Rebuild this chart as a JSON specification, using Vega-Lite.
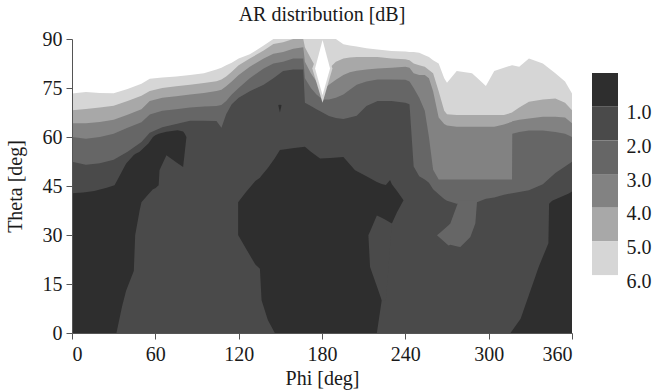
{
"$schema":"https://vega.github.io/schema/vega-lite/v6.json",
"padding":{"left":5,"top":5,"right":5,"bottom":5},
"background":"white",
"bounds":"flush",
"spacing":20,
"config":{"font":"Liberation Serif, Tinos, Times New Roman, Times, serif"},
"datasets":{
"base":[
{"p":0,"b2":52.4,"b3":60,"b4":64.2,"b5":68.2,"b6":73.3},
{"p":10,"b2":51.5,"b3":59.5,"b4":64.2,"b5":68.6,"b6":73.8},
{"p":20,"b2":52,"b3":60,"b4":64.6,"b5":69,"b6":73.5},
{"p":30,"b2":53,"b3":61,"b4":65.3,"b5":69.6,"b6":73.4},
{"p":40,"b2":55.5,"b3":62.8,"b4":66.8,"b5":71,"b6":74.7},
{"p":50,"b2":58.5,"b3":64.5,"b4":68.5,"b5":72.6,"b6":76.3},
{"p":56,"b2":61.3,"b3":66.9,"b4":71,"b5":74.1,"b6":77.8},
{"p":65,"b2":63,"b3":68,"b4":72,"b5":75,"b6":78.2},
{"p":75,"b2":64,"b3":68.5,"b4":72.5,"b5":75.5,"b6":78.5},
{"p":85,"b2":65,"b3":69,"b4":73,"b5":76,"b6":79},
{"p":95,"b2":65,"b3":69.3,"b4":73.5,"b5":76.5,"b6":79.5},
{"p":104,"b2":64.9,"b3":69.5,"b4":74.1,"b5":77.1,"b6":80.7},
{"p":107.6,"b2":62.8,"b3":69.8,"b4":74.5,"b5":77.6,"b6":81.2},
{"p":111,"b2":67,"b3":71,"b4":75.5,"b5":78.5,"b6":82},
{"p":115,"b2":70,"b3":73,"b4":77,"b5":80,"b6":82.7},
{"p":120,"b2":72,"b3":75,"b4":79,"b5":82,"b6":84},
{"p":128,"b2":74,"b3":78,"b4":81.5,"b5":84,"b6":85.3},
{"p":138,"b2":76,"b3":81,"b4":84,"b5":86.5,"b6":88},
{"p":145,"b2":78,"b3":82.5,"b4":85.5,"b5":88.5,"b6":90},
{"p":152,"b2":80.2,"b3":83,"b4":86,"b5":89,"b6":90},
{"p":159.3,"b2":80.7,"b3":84,"b4":87,"b5":90,"b6":90},
{"p":166.5,"b2":80.7,"b3":84,"b4":87.5,"b5":90,"b6":90},
{"p":167.7,"b2":70.5,"b3":78,"b4":83,"b5":87.5,"b6":90},
{"p":172,"b2":69.5,"b3":75,"b4":79.5,"b5":84,"b6":90},
{"p":176,"b2":68.5,"b3":73,"b4":77,"b5":81,"b6":90},
{"p":180.4,"b2":67.5,"b3":71.5,"b4":74.5,"b5":78,"b6":90},
{"p":185,"b2":66.4,"b3":71.5,"b4":76,"b5":81,"b6":90},
{"p":190,"b2":65.8,"b3":72,"b4":77.5,"b5":83,"b6":90},
{"p":195.4,"b2":65.5,"b3":73,"b4":79,"b5":84,"b6":88.4},
{"p":200,"b2":66,"b3":74.5,"b4":79.8,"b5":84.3,"b6":88},
{"p":205,"b2":66.5,"b3":76,"b4":80.3,"b5":84.5,"b6":87.7},
{"p":212,"b2":69.5,"b3":77,"b4":80.7,"b5":84.5,"b6":87.2},
{"p":220,"b2":71,"b3":77.6,"b4":81,"b5":84.5,"b6":86.8},
{"p":230,"b2":71,"b3":77.6,"b4":81.2,"b5":84,"b6":86.3},
{"p":240,"b2":70.5,"b3":77.5,"b4":81.5,"b5":83.8,"b6":86.2},
{"p":243,"b2":70,"b3":77,"b4":81.2,"b5":83.5,"b6":86},
{"p":246,"b2":51,"b3":75,"b4":79.5,"b5":82.5,"b6":86},
{"p":250,"b2":48,"b3":72,"b4":79,"b5":82,"b6":85.8},
{"p":254,"b2":47,"b3":68,"b4":79,"b5":81.5,"b6":85},
{"p":257,"b2":46,"b3":60,"b4":78,"b5":80.5,"b6":84.5},
{"p":260,"b2":44,"b3":50,"b4":74,"b5":79.5,"b6":83.5},
{"p":264,"b2":42.5,"b3":47,"b4":66,"b5":74,"b6":82.5},
{"p":268,"b2":41,"b3":47,"b4":64,"b5":68,"b6":78},
{"p":270,"b2":40.5,"b3":47,"b4":63.5,"b5":67,"b6":76.6},
{"p":277,"b2":39.6,"b3":47,"b4":63.1,"b5":66.7,"b6":80.2},
{"p":288,"b2":39.8,"b3":47,"b4":63.1,"b5":66.7,"b6":79.5},
{"p":292,"b2":40.1,"b3":47,"b4":63.1,"b5":66.7,"b6":78},
{"p":298,"b2":41.1,"b3":47,"b4":63.1,"b5":66.7,"b6":75.6},
{"p":304,"b2":41.5,"b3":47,"b4":63.1,"b5":66.7,"b6":80.2},
{"p":311,"b2":42.3,"b3":47,"b4":63.8,"b5":66.7,"b6":81.2},
{"p":316.8,"b2":42.8,"b3":47,"b4":64.7,"b5":67.5,"b6":82},
{"p":317,"b2":42.8,"b3":61,"b4":64.8,"b5":67.6,"b6":82},
{"p":322,"b2":43.2,"b3":61.5,"b4":65.3,"b5":69,"b6":81.5},
{"p":329,"b2":43.7,"b3":62,"b4":65.7,"b5":70.8,"b6":84},
{"p":339,"b2":45.5,"b3":62,"b4":66.2,"b5":71.5,"b6":82.5},
{"p":348,"b2":49,"b3":61.5,"b4":66.2,"b5":71.8,"b6":79.5},
{"p":355,"b2":51,"b3":61,"b4":66,"b5":70.5,"b6":77},
{"p":360,"b2":52.4,"b3":60,"b4":64.2,"b5":68.2,"b6":73.3}
],
"isl1":[
{"id":"D1","v":0.5,"p":0,"lo":0,"hi":42.8},
{"id":"D1","v":0.5,"p":8,"lo":0,"hi":43},
{"id":"D1","v":0.5,"p":16,"lo":0,"hi":43.5},
{"id":"D1","v":0.5,"p":25,"lo":0,"hi":44.5},
{"id":"D1","v":0.5,"p":30.6,"lo":0,"hi":45.2},
{"id":"D1","v":0.5,"p":32,"lo":0,"hi":46.3},
{"id":"D1","v":0.5,"p":36,"lo":8,"hi":49.5},
{"id":"D1","v":0.5,"p":39,"lo":13,"hi":51.9},
{"id":"D1","v":0.5,"p":44.5,"lo":19,"hi":54.5},
{"id":"D1","v":0.5,"p":45.5,"lo":30,"hi":54.8},
{"id":"D1","v":0.5,"p":48.7,"lo":37.5,"hi":55.5},
{"id":"D1","v":0.5,"p":50,"lo":40,"hi":56},
{"id":"D1","v":0.5,"p":55,"lo":42.5,"hi":58},
{"id":"D1","v":0.5,"p":58.3,"lo":44,"hi":60},
{"id":"D1","v":0.5,"p":60,"lo":44.3,"hi":60.5},
{"id":"D1","v":0.5,"p":62.4,"lo":45.2,"hi":61},
{"id":"D1","v":0.5,"p":63,"lo":49.8,"hi":61.1},
{"id":"D1","v":0.5,"p":68,"lo":54.4,"hi":61.6},
{"id":"D1","v":0.5,"p":76,"lo":52,"hi":62.1},
{"id":"D1","v":0.5,"p":80,"lo":50.8,"hi":61.7},
{"id":"D1","v":0.5,"p":81.2,"lo":55.4,"hi":61},
{"id":"D1","v":0.5,"p":82.4,"lo":60,"hi":60},
{"id":"D2","v":0.5,"p":119.6,"lo":30,"hi":40},
{"id":"D2","v":0.5,"p":125,"lo":26,"hi":43},
{"id":"D2","v":0.5,"p":132,"lo":21,"hi":46.5},
{"id":"D2","v":0.5,"p":135.3,"lo":19.7,"hi":47.5},
{"id":"D2","v":0.5,"p":136.5,"lo":10,"hi":48.2},
{"id":"D2","v":0.5,"p":141,"lo":4,"hi":50.5},
{"id":"D2","v":0.5,"p":146,"lo":0,"hi":53.5},
{"id":"D2","v":0.5,"p":149.7,"lo":0,"hi":56},
{"id":"D2","v":0.5,"p":160,"lo":0,"hi":56.6},
{"id":"D2","v":0.5,"p":167.7,"lo":0,"hi":57},
{"id":"D2","v":0.5,"p":172,"lo":0,"hi":55.5},
{"id":"D2","v":0.5,"p":178.6,"lo":0,"hi":53.4},
{"id":"D2","v":0.5,"p":186,"lo":0,"hi":53.6},
{"id":"D2","v":0.5,"p":195.4,"lo":0,"hi":53.9},
{"id":"D2","v":0.5,"p":203.8,"lo":0,"hi":49.8},
{"id":"D2","v":0.5,"p":212,"lo":0,"hi":48},
{"id":"D2","v":0.5,"p":219.5,"lo":0,"hi":46.2},
{"id":"D2","v":0.5,"p":223,"lo":10,"hi":45.6},
{"id":"D2","v":0.5,"p":226,"lo":33.5,"hi":45.3},
{"id":"D2","v":0.5,"p":229,"lo":33.6,"hi":46.8},
{"id":"D2","v":0.5,"p":230.3,"lo":33.5,"hi":45.5},
{"id":"D2","v":0.5,"p":234,"lo":37,"hi":43.5},
{"id":"D2","v":0.5,"p":238.7,"lo":40.6,"hi":40.6},
{"id":"D3","v":0.5,"p":315.7,"lo":0,"hi":0},
{"id":"D3","v":0.5,"p":323,"lo":0,"hi":4.4},
{"id":"D3","v":0.5,"p":336,"lo":0,"hi":20.2},
{"id":"D3","v":0.5,"p":343,"lo":0,"hi":27.5},
{"id":"D3","v":0.5,"p":343.5,"lo":0,"hi":39.6},
{"id":"D3","v":0.5,"p":345.7,"lo":0,"hi":40.5},
{"id":"D3","v":0.5,"p":357.7,"lo":0,"hi":42.7},
{"id":"D3","v":0.5,"p":360,"lo":0,"hi":43.3},
{"id":"T","v":2.5,"p":262.8,"lo":29.9,"hi":29.9},
{"id":"T","v":2.5,"p":265,"lo":29.1,"hi":30.7},
{"id":"T","v":2.5,"p":271.1,"lo":26.8,"hi":33},
{"id":"T","v":2.5,"p":272.4,"lo":27,"hi":33.5},
{"id":"T","v":2.5,"p":278.4,"lo":26.4,"hi":40.5},
{"id":"T","v":2.5,"p":279.6,"lo":26.3,"hi":40.5},
{"id":"T","v":2.5,"p":286.8,"lo":29.4,"hi":40.5},
{"id":"T","v":2.5,"p":290.4,"lo":33.5,"hi":40.5},
{"id":"T","v":2.5,"p":291.6,"lo":40.1,"hi":40.5},
{"id":"K","v":0.5,"p":148.6,"lo":69.6,"hi":69.8},
{"id":"K","v":0.5,"p":149.7,"lo":67.5,"hi":69.9},
{"id":"K","v":0.5,"p":150.8,"lo":69.6,"hi":69.8},
{"id":"R","v":5.5,"p":173,"lo":81,"hi":81},
{"id":"R","v":5.5,"p":180.4,"lo":70.5,"hi":90},
{"id":"R","v":5.5,"p":187.5,"lo":81,"hi":81}
],
"isl2":[
{"id":"N1","v":1.5,"p":213.4,"lo":29.9,"hi":29.9},
{"id":"N1","v":1.5,"p":214.6,"lo":20.2,"hi":31.1},
{"id":"N1","v":1.5,"p":219.5,"lo":14.3,"hi":36},
{"id":"N1","v":1.5,"p":223,"lo":10,"hi":35.3},
{"id":"N1","v":1.5,"p":226,"lo":10,"hi":34.6},
{"id":"N1","v":1.5,"p":230.3,"lo":33.5,"hi":33.5},
{"id":"W","v":6.5,"p":175,"lo":81,"hi":81},
{"id":"W","v":6.5,"p":180.4,"lo":72.8,"hi":89.7},
{"id":"W","v":6.5,"p":185.8,"lo":81,"hi":81}
],
"legend":[
{"lo":0,"hi":1,"v":0.5},{"lo":1,"hi":2,"v":1.5},{"lo":2,"hi":3,"v":2.5},{"lo":3,"hi":4,"v":3.5},{"lo":4,"hi":5,"v":4.5},{"lo":5,"hi":6,"v":5.5}
]
},
"hconcat":[
{
"width":500,"height":294,
"view":{"stroke":null},
"title":{"text":"AR distribution [dB]","font":"Liberation Serif, Tinos, Times New Roman, Times, serif","fontSize":20,"fontWeight":"normal","color":"#1a1a1a","anchor":"middle","offset":4},
"encoding":{
"x":{"field":"p","type":"quantitative","scale":{"domain":[0,360],"nice":false,"zero":false},
"axis":{"values":[0,60,120,180,240,300,360],"title":"Phi [deg]","zindex":2,"grid":false,"tickSize":6,"labelPadding":5,"labelFont":"Liberation Serif, Tinos, Times New Roman, Times, serif","labelFontSize":20,"labelColor":"#1a1a1a","domainColor":"#555","tickColor":"#555","titleFont":"Liberation Serif, Tinos, Times New Roman, Times, serif","titleFontSize":20,"titleFontWeight":"normal","titleColor":"#1a1a1a","titleBaseline":"alphabetic","titleY":51}}
},
"layer":[
{"data":{"name":"base"},"mark":{"type":"area","interpolate":"linear"},
"encoding":{"y":{"datum":0,"type":"quantitative","scale":{"domain":[0,90],"nice":false},
"axis":{"values":[0,15,30,45,60,75,90],"title":"Theta [deg]","zindex":2,"grid":false,"tickSize":6,"labelPadding":4,"labelFont":"Liberation Serif, Tinos, Times New Roman, Times, serif","labelFontSize":20,"labelColor":"#1a1a1a","domainColor":"#555","tickColor":"#555","titleFont":"Liberation Serif, Tinos, Times New Roman, Times, serif","titleFontSize":20,"titleFontWeight":"normal","titleColor":"#1a1a1a","titleAngle":270,"titleAlign":"center","titleBaseline":"alphabetic","titleX":-51,"titleY":147}},
"y2":{"datum":90},
"color":{"datum":1.5,"type":"quantitative","scale":{"type":"threshold","domain":[1,2,3,4,5,6],"range":["#2e2e2e","#4a4a4a","#666666","#828282","#a8a8a8","#d6d6d6","#ffffff"]},"legend":null}}},
{"data":{"name":"base"},"mark":{"type":"area","interpolate":"linear"},
"encoding":{"y":{"field":"b2","type":"quantitative"},"y2":{"datum":90},"color":{"datum":2.5,"type":"quantitative","scale":{"type":"threshold","domain":[1,2,3,4,5,6],"range":["#2e2e2e","#4a4a4a","#666666","#828282","#a8a8a8","#d6d6d6","#ffffff"]},"legend":null}}},
{"data":{"name":"base"},"mark":{"type":"area","interpolate":"linear"},
"encoding":{"y":{"field":"b3","type":"quantitative"},"y2":{"datum":90},"color":{"datum":3.5,"type":"quantitative","scale":{"type":"threshold","domain":[1,2,3,4,5,6],"range":["#2e2e2e","#4a4a4a","#666666","#828282","#a8a8a8","#d6d6d6","#ffffff"]},"legend":null}}},
{"data":{"name":"base"},"mark":{"type":"area","interpolate":"linear"},
"encoding":{"y":{"field":"b4","type":"quantitative"},"y2":{"datum":90},"color":{"datum":4.5,"type":"quantitative","scale":{"type":"threshold","domain":[1,2,3,4,5,6],"range":["#2e2e2e","#4a4a4a","#666666","#828282","#a8a8a8","#d6d6d6","#ffffff"]},"legend":null}}},
{"data":{"name":"base"},"mark":{"type":"area","interpolate":"linear"},
"encoding":{"y":{"field":"b5","type":"quantitative"},"y2":{"datum":90},"color":{"datum":5.5,"type":"quantitative","scale":{"type":"threshold","domain":[1,2,3,4,5,6],"range":["#2e2e2e","#4a4a4a","#666666","#828282","#a8a8a8","#d6d6d6","#ffffff"]},"legend":null}}},
{"data":{"name":"base"},"mark":{"type":"area","interpolate":"linear"},
"encoding":{"y":{"field":"b6","type":"quantitative"},"y2":{"datum":90},"color":{"datum":6.5,"type":"quantitative","scale":{"type":"threshold","domain":[1,2,3,4,5,6],"range":["#2e2e2e","#4a4a4a","#666666","#828282","#a8a8a8","#d6d6d6","#ffffff"]},"legend":null}}},
{"data":{"name":"isl1"},"mark":{"type":"area","interpolate":"linear"},
"encoding":{"y":{"field":"lo","type":"quantitative"},"y2":{"field":"hi"},"detail":{"field":"id"},
"color":{"field":"v","type":"quantitative","scale":{"type":"threshold","domain":[1,2,3,4,5,6],"range":["#2e2e2e","#4a4a4a","#666666","#828282","#a8a8a8","#d6d6d6","#ffffff"]},"legend":null}}},
{"data":{"name":"isl2"},"mark":{"type":"area","interpolate":"linear"},
"encoding":{"y":{"field":"lo","type":"quantitative"},"y2":{"field":"hi"},"detail":{"field":"id"},
"color":{"field":"v","type":"quantitative","scale":{"type":"threshold","domain":[1,2,3,4,5,6],"range":["#2e2e2e","#4a4a4a","#666666","#828282","#a8a8a8","#d6d6d6","#ffffff"]},"legend":null}}},
{"data":{"values":[{}]},"mark":{"type":"rect","fillOpacity":0,"stroke":"#8a8a8a","strokeWidth":1},
"encoding":{"x":{"datum":0},"x2":{"datum":360},"y":{"datum":0},"y2":{"datum":90}}}
]
},
{
"width":26,"height":294,
"view":{"stroke":null},
"data":{"name":"legend"},
"mark":{"type":"rect"},
"encoding":{
"y":{"field":"lo","type":"quantitative","scale":{"domain":[-1.01,7.72],"nice":false,"zero":false,"reverse":true},
"axis":{"orient":"right","values":[1,2,3,4,5,6],"format":".1f","title":null,"domain":false,"ticks":false,"grid":false,"labelPadding":8,"labelOffset":6,"labelBaseline":"middle","labelFont":"Liberation Serif, Tinos, Times New Roman, Times, serif","labelFontSize":20,"labelColor":"#1a1a1a"}},
"y2":{"field":"hi"},
"color":{"field":"v","type":"quantitative","scale":{"type":"threshold","domain":[1,2,3,4,5,6],"range":["#2e2e2e","#4a4a4a","#666666","#828282","#a8a8a8","#d6d6d6","#ffffff"]},"legend":null}
}
}
]
}
